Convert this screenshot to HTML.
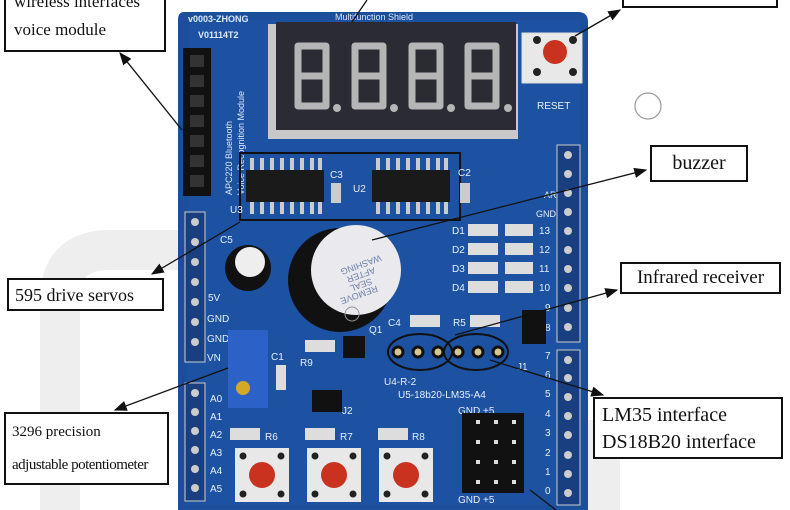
<!DOCTYPE html>
<html><head><meta charset="utf-8"><style>
body{margin:0;width:790px;height:510px;overflow:hidden;background:#fff;position:relative;font-family:"Liberation Serif",serif}
.box{position:absolute;border:2px solid #111;background:#fff;color:#111;box-sizing:border-box}
</style></head><body>
<svg width="790" height="510" style="position:absolute;left:0;top:0">
<defs><marker id="a" markerWidth="10" markerHeight="8" refX="9" refY="4" orient="auto"><path d="M0,0 L10,4 L0,8z" fill="#111"/></marker></defs>
<!-- watermark -->
<g fill="none" stroke="#eee" stroke-width="40"><path d="M60,510 L60,300 Q60,250 110,250 L180,250"/><path d="M600,510 L600,420"/></g>
<!-- board -->
<path d="M184,12 L578,12 Q588,12 588,22 L588,510 L178,510 L178,20 Q178,12 184,12z" fill="#1b4f9c"/>
<path d="M190,20 L580,20 L580,505 L186,505z" fill="#1d56a6" opacity="0.5"/>
<text x="188" y="22" font-family="Liberation Sans" font-size="9" fill="#dfe8f8" font-weight="bold">v0003-ZHONG</text>
<text x="198" y="38" font-family="Liberation Sans" font-size="9" fill="#dfe8f8" font-weight="bold">V01114T2</text>
<text x="335" y="20" font-family="Liberation Sans" font-size="9" fill="#dfe8f8">Multifunction Shield</text>
<!-- display -->
<rect x="268" y="24" width="250" height="115" fill="#c8c8c8"/>
<rect x="276" y="22" width="240" height="108" fill="#2a2b33"/>
<g fill="none" stroke="#b5b5b5" stroke-width="7" stroke-linejoin="round">
<path d="M298,46 h28 v30 h-28z M298,76 v30 h28 v-30"/>
<path d="M355,46 h28 v30 h-28z M355,76 v30 h28 v-30"/>
<path d="M412,46 h28 v30 h-28z M412,76 v30 h28 v-30"/>
<path d="M468,46 h28 v30 h-28z M468,76 v30 h28 v-30"/>
</g>
<g fill="#b5b5b5"><circle cx="337" cy="108" r="4"/><circle cx="394" cy="108" r="4"/><circle cx="451" cy="108" r="4"/><circle cx="508" cy="108" r="4"/></g>
<!-- reset -->
<rect x="522" y="33" width="60" height="50" fill="#e8e8e8" stroke="#ddd"/>
<circle cx="555" cy="52" r="12" fill="#c8321e"/>
<g fill="#222"><circle cx="537" cy="40" r="4"/><circle cx="573" cy="40" r="4"/><circle cx="537" cy="72" r="4"/><circle cx="573" cy="72" r="4"/></g>
<text x="537" y="109" font-family="Liberation Sans" font-size="10" fill="#e6eefa">RESET</text>
<circle cx="648" cy="106" r="13" fill="#fff" stroke="#999" stroke-width="1.2"/>
<!-- left header -->
<rect x="183" y="48" width="28" height="148" fill="#111"/>
<g fill="#333"><rect x="190" y="55" width="14" height="12"/><rect x="190" y="75" width="14" height="12"/><rect x="190" y="95" width="14" height="12"/><rect x="190" y="115" width="14" height="12"/><rect x="190" y="135" width="14" height="12"/><rect x="190" y="155" width="14" height="12"/><rect x="190" y="175" width="14" height="12"/></g>
<text transform="translate(232,195) rotate(-90)" font-family="Liberation Sans" font-size="9" fill="#dfe8f8">APC220 Bluetooth</text>
<text transform="translate(232,195) rotate(-90)" dy="12" font-family="Liberation Sans" font-size="9" fill="#dfe8f8">Voice Recognition Module</text>
<!-- ICs -->
<rect x="240" y="153" width="220" height="67" fill="none" stroke="#111" stroke-width="2"/>
<rect x="246" y="170" width="78" height="32" fill="#1a1a1a"/>
<rect x="372" y="170" width="78" height="32" fill="#1a1a1a"/>
<g fill="#ccc"><path d="M250,158h4v12h-4z M260,158h4v12h-4z M270,158h4v12h-4z M280,158h4v12h-4z M290,158h4v12h-4z M300,158h4v12h-4z M310,158h4v12h-4z M318,158h4v12h-4z M250,202h4v12h-4z M260,202h4v12h-4z M270,202h4v12h-4z M280,202h4v12h-4z M290,202h4v12h-4z M300,202h4v12h-4z M310,202h4v12h-4z M318,202h4v12h-4z"/>
<path d="M376,158h4v12h-4z M386,158h4v12h-4z M396,158h4v12h-4z M406,158h4v12h-4z M416,158h4v12h-4z M426,158h4v12h-4z M436,158h4v12h-4z M444,158h4v12h-4z M376,202h4v12h-4z M386,202h4v12h-4z M396,202h4v12h-4z M406,202h4v12h-4z M416,202h4v12h-4z M426,202h4v12h-4z M436,202h4v12h-4z M444,202h4v12h-4z"/></g>
<rect x="331" y="183" width="10" height="20" fill="#ccc"/><rect x="460" y="183" width="10" height="20" fill="#ccc"/>
<g font-family="Liberation Sans" font-size="10" fill="#e6eefa"><text x="330" y="178">C3</text><text x="353" y="192">U2</text><text x="458" y="176">C2</text><text x="230" y="213">U3</text><text x="220" y="243">C5</text>
<text x="544" y="198" font-size="9">ARFF</text><text x="536" y="217" font-size="9">GND</text>
<text x="452" y="234">D1</text><text x="452" y="253">D2</text><text x="452" y="272">D3</text><text x="452" y="291">D4</text>
<text x="539" y="234">13</text><text x="539" y="253">12</text><text x="539" y="272">11</text><text x="539" y="291">10</text><text x="545" y="311">9</text><text x="545" y="331">8</text>
<text x="545" y="359">7</text><text x="545" y="378">6</text><text x="545" y="397">5</text><text x="545" y="417">4</text><text x="545" y="436">3</text><text x="545" y="456">2</text><text x="545" y="475">1</text><text x="545" y="494">0</text>
<text x="388" y="326">C4</text><text x="453" y="326">R5</text><text x="517" y="370">J1</text>
<text x="384" y="385">U4-R-2</text><text x="398" y="398">U5-18b20-LM35-A4</text>
<text x="458" y="414">GND +5</text><text x="458" y="503">GND +5</text>
<text x="208" y="301">5V</text><text x="207" y="322">GND</text><text x="207" y="342">GND</text><text x="207" y="361">VN</text>
<text x="210" y="402">A0</text><text x="210" y="420">A1</text><text x="210" y="438">A2</text><text x="210" y="456">A3</text><text x="210" y="474">A4</text><text x="210" y="492">A5</text>
<text x="271" y="360">C1</text><text x="300" y="366">R9</text><text x="369" y="333">Q1</text><text x="342" y="414">J2</text>
<text x="265" y="440">R6</text><text x="340" y="440">R7</text><text x="412" y="440">R8</text></g>
<!-- LEDs -->
<g fill="#ddd"><rect x="468" y="224" width="30" height="12"/><rect x="468" y="243" width="30" height="12"/><rect x="468" y="262" width="30" height="12"/><rect x="468" y="281" width="30" height="12"/>
<rect x="505" y="224" width="28" height="12"/><rect x="505" y="243" width="28" height="12"/><rect x="505" y="262" width="28" height="12"/><rect x="505" y="281" width="28" height="12"/>
<rect x="410" y="315" width="30" height="12"/><rect x="470" y="315" width="30" height="12"/><rect x="305" y="340" width="30" height="12"/><rect x="230" y="428" width="30" height="12"/><rect x="305" y="428" width="30" height="12"/><rect x="378" y="428" width="30" height="12"/><rect x="276" y="365" width="10" height="25"/></g>
<!-- right headers -->
<rect x="557" y="145" width="23" height="197" fill="#1a3f80" stroke="#ccc"/>
<rect x="557" y="350" width="23" height="155" fill="#1a3f80" stroke="#ccc"/>
<g fill="#ccc"><circle cx="568" cy="155" r="4"/><circle cx="568" cy="174" r="4"/><circle cx="568" cy="193" r="4"/><circle cx="568" cy="212" r="4"/><circle cx="568" cy="231" r="4"/><circle cx="568" cy="250" r="4"/><circle cx="568" cy="269" r="4"/><circle cx="568" cy="288" r="4"/><circle cx="568" cy="308" r="4"/><circle cx="568" cy="327" r="4"/>
<circle cx="568" cy="360" r="4"/><circle cx="568" cy="378" r="4"/><circle cx="568" cy="397" r="4"/><circle cx="568" cy="416" r="4"/><circle cx="568" cy="435" r="4"/><circle cx="568" cy="455" r="4"/><circle cx="568" cy="474" r="4"/><circle cx="568" cy="493" r="4"/></g>
<!-- left pin headers -->
<rect x="185" y="212" width="20" height="150" fill="#1a3f80" stroke="#ccc"/>
<rect x="185" y="383" width="20" height="118" fill="#1a3f80" stroke="#ccc"/>
<g fill="#ccc"><circle cx="195" cy="222" r="4"/><circle cx="195" cy="242" r="4"/><circle cx="195" cy="262" r="4"/><circle cx="195" cy="282" r="4"/><circle cx="195" cy="302" r="4"/><circle cx="195" cy="322" r="4"/><circle cx="195" cy="342" r="4"/>
<circle cx="195" cy="393" r="4"/><circle cx="195" cy="412" r="4"/><circle cx="195" cy="431" r="4"/><circle cx="195" cy="450" r="4"/><circle cx="195" cy="469" r="4"/><circle cx="195" cy="488" r="4"/></g>
<!-- capacitor -->
<circle cx="248" cy="268" r="23" fill="#111"/><circle cx="250" cy="262" r="15" fill="#eee"/>
<!-- buzzer -->
<circle cx="340" cy="280" r="52" fill="#111"/>
<circle cx="356" cy="270" r="45" fill="#e9e9ee"/>
<text transform="translate(360,262) rotate(160)" font-family="Liberation Sans" font-size="9" fill="#6d80a8" text-anchor="middle">WASHING</text>
<text transform="translate(360,272) rotate(160)" font-family="Liberation Sans" font-size="9" fill="#6d80a8" text-anchor="middle">AFTER</text>
<text transform="translate(360,282) rotate(160)" font-family="Liberation Sans" font-size="9" fill="#6d80a8" text-anchor="middle">SEAL</text>
<text transform="translate(358,292) rotate(160)" font-family="Liberation Sans" font-size="9" fill="#6d80a8" text-anchor="middle">REMOVE</text>
<circle cx="352" cy="314" r="7" fill="none" stroke="#999"/>
<!-- pot -->
<rect x="228" y="330" width="40" height="78" fill="#2c62c8"/>
<circle cx="243" cy="388" r="7" fill="#d3a825"/>
<!-- transistor / jumpers -->
<rect x="343" y="336" width="22" height="22" fill="#111"/>
<rect x="312" y="390" width="30" height="22" fill="#111"/>
<rect x="522" y="310" width="24" height="34" fill="#111"/>
<!-- sensor sockets -->
<ellipse cx="420" cy="352" rx="32" ry="18" fill="none" stroke="#111" stroke-width="2"/>
<ellipse cx="476" cy="352" rx="32" ry="18" fill="none" stroke="#111" stroke-width="2"/>
<g fill="#d8c690" stroke="#111" stroke-width="3"><circle cx="398" cy="352" r="5"/><circle cx="418" cy="352" r="5"/><circle cx="438" cy="352" r="5"/><circle cx="458" cy="352" r="5"/><circle cx="478" cy="352" r="5"/><circle cx="498" cy="352" r="5"/></g>
<!-- jumper block -->
<rect x="462" y="413" width="62" height="80" fill="#111"/>
<g fill="#ddd"><rect x="476" y="420" width="4" height="4"/><rect x="494" y="420" width="4" height="4"/><rect x="512" y="420" width="4" height="4"/><rect x="476" y="440" width="4" height="4"/><rect x="494" y="440" width="4" height="4"/><rect x="512" y="440" width="4" height="4"/><rect x="476" y="460" width="4" height="4"/><rect x="494" y="460" width="4" height="4"/><rect x="512" y="460" width="4" height="4"/><rect x="476" y="480" width="4" height="4"/><rect x="494" y="480" width="4" height="4"/><rect x="512" y="480" width="4" height="4"/></g>
<!-- buttons -->
<g><rect x="235" y="448" width="54" height="54" fill="#e8e8e8"/><circle cx="262" cy="475" r="13" fill="#c8321e"/>
<rect x="307" y="448" width="54" height="54" fill="#e8e8e8"/><circle cx="334" cy="475" r="13" fill="#c8321e"/>
<rect x="379" y="448" width="54" height="54" fill="#e8e8e8"/><circle cx="406" cy="475" r="13" fill="#c8321e"/></g>
<g fill="#222"><circle cx="243" cy="456" r="3.5"/><circle cx="281" cy="456" r="3.5"/><circle cx="243" cy="494" r="3.5"/><circle cx="281" cy="494" r="3.5"/><circle cx="315" cy="456" r="3.5"/><circle cx="353" cy="456" r="3.5"/><circle cx="315" cy="494" r="3.5"/><circle cx="353" cy="494" r="3.5"/><circle cx="387" cy="456" r="3.5"/><circle cx="425" cy="456" r="3.5"/><circle cx="387" cy="494" r="3.5"/><circle cx="425" cy="494" r="3.5"/></g>
<!-- arrows -->
<g stroke="#111" stroke-width="1.3" fill="none" marker-end="url(#a)">
<line x1="182" y1="130" x2="120" y2="53"/>
<line x1="575" y1="36" x2="620" y2="10"/>
<line x1="372" y1="240" x2="646" y2="170"/>
<line x1="455" y1="335" x2="617" y2="290"/>
<line x1="490" y1="360" x2="603" y2="395"/>
<line x1="240" y1="222" x2="152" y2="274"/>
<line x1="228" y1="368" x2="115" y2="410"/>
</g>
<line x1="352" y1="22" x2="367" y2="0" stroke="#111" stroke-width="1.3"/>
<line x1="530" y1="490" x2="556" y2="510" stroke="#111" stroke-width="1.3"/>
</svg>
<div class="box" style="left:4px;top:-14px;width:162px;height:66px;font-size:17px;line-height:28px;padding-left:8px">wireless interfaces<br>voice module</div>
<div class="box" style="left:622px;top:-20px;width:156px;height:28px"></div>
<div class="box" style="left:650px;top:145px;width:98px;height:37px;font-size:20px;line-height:33px;text-align:center">buzzer</div>
<div class="box" style="left:620px;top:262px;width:161px;height:32px;font-size:19px;line-height:28px;text-align:center">Infrared receiver</div>
<div class="box" style="left:593px;top:397px;width:190px;height:62px;font-size:20px;line-height:27px;padding-left:7px;padding-top:3px">LM35 interface<br>DS18B20 interface</div>
<div class="box" style="left:7px;top:278px;width:157px;height:33px;font-size:18px;line-height:30px;padding-left:6px">595 drive servos</div>
<div class="box" style="left:4px;top:412px;width:165px;height:73px;font-size:15px;line-height:33px;padding-left:6px;padding-top:2px;font-stretch:condensed">3296 precision<br><span style="letter-spacing:-0.5px">adjustable potentiometer</span></div>
</body></html>
